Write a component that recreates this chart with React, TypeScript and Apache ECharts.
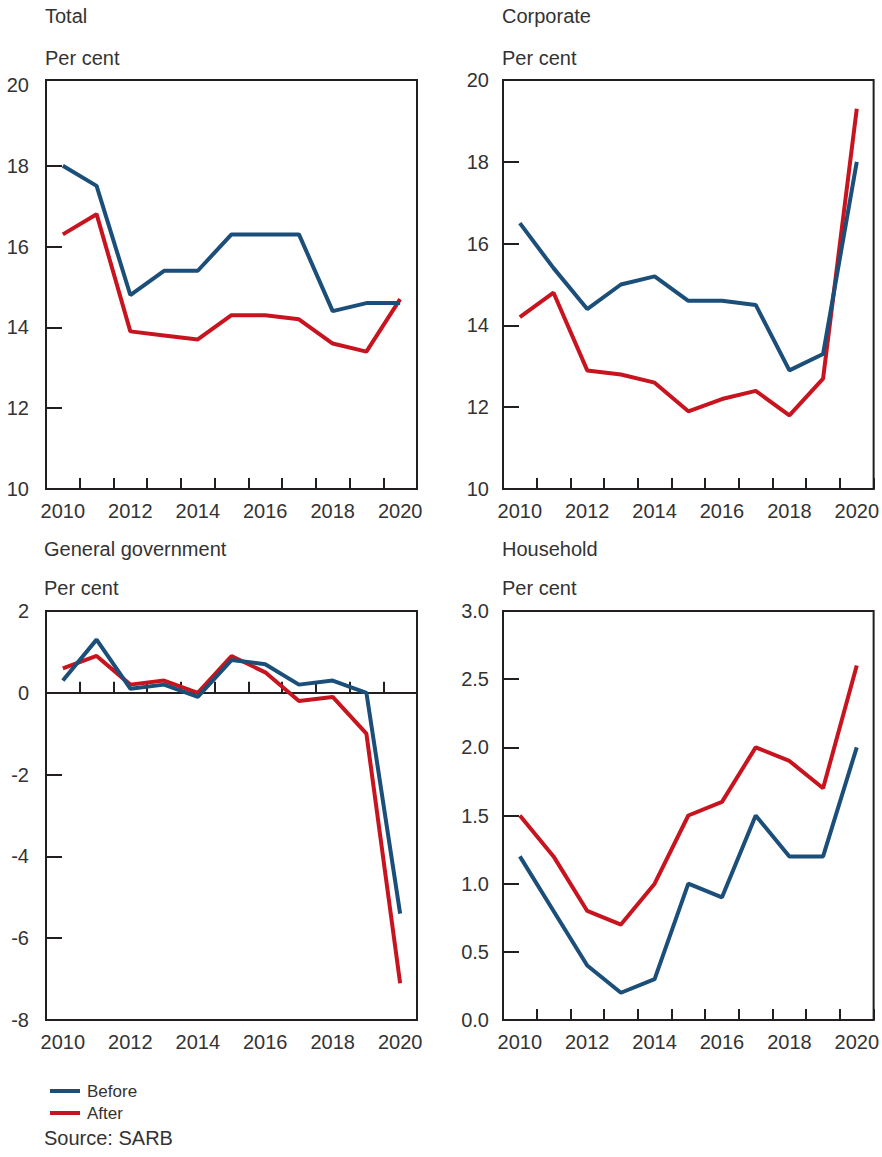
import React, { useEffect, useRef } from "react";
import * as echarts from "echarts";

const years = ["2010", "2011", "2012", "2013", "2014", "2015", "2016", "2017", "2018", "2019", "2020"];

const totalBefore = [18.0, 17.5, 14.8, 15.4, 15.4, 16.3, 16.3, 16.3, 14.4, 14.6, 14.6];
const totalAfter = [16.3, 16.8, 13.9, 13.8, 13.7, 14.3, 14.3, 14.2, 13.6, 13.4, 14.7];

const corpBefore = [16.5, 15.4, 14.4, 15.0, 15.2, 14.6, 14.6, 14.5, 12.9, 13.3, 18.0];
const corpAfter = [14.2, 14.8, 12.9, 12.8, 12.6, 11.9, 12.2, 12.4, 11.8, 12.7, 19.3];

const govBefore = [0.3, 1.3, 0.1, 0.2, -0.1, 0.8, 0.7, 0.2, 0.3, 0.0, -5.4];
const govAfter = [0.6, 0.9, 0.2, 0.3, 0.0, 0.9, 0.5, -0.2, -0.1, -1.0, -7.1];

const houseBefore = [1.2, 0.8, 0.4, 0.2, 0.3, 1.0, 0.9, 1.5, 1.2, 1.2, 2.0];
const houseAfter = [1.5, 1.2, 0.8, 0.7, 1.0, 1.5, 1.6, 2.0, 1.9, 1.7, 2.6];

const totalTicks = [10, 12, 14, 16, 18, 20];
const corpTicks = [10, 12, 14, 16, 18, 20];
const govTicks = [-8, -6, -4, -2, 0, 2];
const houseTicks = [0, 0.5, 1.0, 1.5, 2.0, 2.5, 3.0];

const panelTitles = ["Total", "Corporate", "General government", "Household"];
const unitLabel = "Per cent";
const seriesNames = ["Before", "After"];
const sourceText = "Source: SARB";

const BLUE = "#1b4f79";
const RED = "#c8141f";
const INK = "#231f20";
const TEXT = "#333333";
const FONT = "Liberation Sans, Arial, sans-serif";

export default function App() {
  const ref = useRef<HTMLDivElement>(null);
  useEffect(() => {
    if (!ref.current) return;
    const chart = echarts.init(ref.current, undefined, { renderer: "svg" });

    const panels = [
      { left: 46, top: 80, min: 10, max: 20.12, interval: 2, dec: 0, ticks: totalTicks, before: totalBefore, after: totalAfter, labelMargin: 17, zero: false },
      { left: 503, top: 80, min: 10, max: 20, interval: 2, dec: 0, ticks: corpTicks, before: corpBefore, after: corpAfter, labelMargin: 14, zero: false },
      { left: 46, top: 611, min: -8, max: 2, interval: 2, dec: 0, ticks: govTicks, before: govBefore, after: govAfter, labelMargin: 17, zero: true },
      { left: 503, top: 611, min: 0, max: 3, interval: 0.5, dec: 1, ticks: houseTicks, before: houseBefore, after: houseAfter, labelMargin: 14, zero: false },
    ];
    const W = 371;
    const H = 409;

    const grid = panels.map((p) => ({
      left: p.left,
      top: p.top,
      width: W,
      height: H,
      show: true,
      borderColor: INK,
      borderWidth: 2,
      backgroundColor: "transparent",
      containLabel: false,
    }));

    const xAxis = panels.map((p, i) => ({
      type: "category",
      gridIndex: i,
      data: years,
      boundaryGap: true,
      axisLine: { show: true, lineStyle: { color: INK, width: 2 } },
      axisTick: { show: true, inside: true, length: 11, interval: 0, lineStyle: { color: INK, width: 2 } },
      axisLabel: { interval: 1, margin: 12, fontSize: 20, color: TEXT, fontFamily: FONT },
      splitLine: { show: false },
    }));

    const yAxis = panels.map((p, i) => ({
      type: "value",
      gridIndex: i,
      min: p.min,
      max: p.max,
      interval: p.interval,
      axisLine: { show: true, lineStyle: { color: INK, width: 2 } },
      axisTick: {
        show: true,
        inside: true,
        length: 16,
        customValues: p.ticks.slice(1, -1),
        lineStyle: { color: INK, width: 2 },
      },
      axisLabel: {
        margin: p.labelMargin,
        fontSize: 20,
        color: TEXT,
        fontFamily: FONT,
        customValues: p.ticks,
        formatter: (v: number) => v.toFixed(p.dec),
      },
      splitLine: { show: false },
    }));

    const series: any[] = [];
    panels.forEach((p, i) => {
      const after: any = {
        type: "line",
        name: seriesNames[1],
        xAxisIndex: i,
        yAxisIndex: i,
        data: p.after,
        symbol: "none",
        lineStyle: { color: RED, width: 4 },
        itemStyle: { color: RED },
        z: 3,
      };
      const before: any = {
        type: "line",
        name: seriesNames[0],
        xAxisIndex: i,
        yAxisIndex: i,
        data: p.before,
        symbol: "none",
        lineStyle: { color: BLUE, width: 4 },
        itemStyle: { color: BLUE },
        z: 4,
      };
      if (p.zero) {
        after.markLine = {
          silent: true,
          symbol: ["none", "none"],
          label: { show: false },
          lineStyle: { color: INK, width: 1, type: "solid" },
          data: [{ yAxis: 0 }],
          z: 1,
        };
      }
      series.push(after, before);
    });

    const titlePos = [
      { x: 45, y: 16 },
      { x: 502, y: 16 },
      { x: 44, y: 549 },
      { x: 502, y: 549 },
    ];
    const unitPos = [
      { x: 45, y: 58 },
      { x: 502, y: 58 },
      { x: 44, y: 588 },
      { x: 502, y: 588 },
    ];
    const graphic: any[] = [];
    panelTitles.forEach((t, i) => {
      graphic.push({
        type: "text",
        x: titlePos[i].x,
        y: titlePos[i].y,
        style: { text: t, fontSize: 20, fill: TEXT, fontFamily: FONT, verticalAlign: "middle", align: "left" },
      });
      graphic.push({
        type: "text",
        x: unitPos[i].x,
        y: unitPos[i].y,
        style: { text: unitLabel, fontSize: 20, fill: TEXT, fontFamily: FONT, verticalAlign: "middle", align: "left" },
      });
    });
    graphic.push({
      type: "text",
      x: 44,
      y: 1138,
      style: { text: sourceText, fontSize: 20, fill: TEXT, fontFamily: FONT, verticalAlign: "middle", align: "left" },
    });

    chart.setOption({
      animation: false,
      backgroundColor: "#ffffff",
      grid,
      xAxis,
      yAxis,
      series,
      graphic,
      legend: {
        orient: "vertical",
        left: 45,
        top: 1077,
        data: [
          { name: seriesNames[0], icon: "rect", itemStyle: { color: BLUE } },
          { name: seriesNames[1], icon: "rect", itemStyle: { color: RED } },
        ],
        itemWidth: 30,
        itemHeight: 4,
        itemGap: 4,
        textStyle: { fontSize: 17, color: TEXT, fontFamily: FONT, padding: [0, 0, 0, 2], lineHeight: 18 },
        selectedMode: false,
      },
    });
    return () => chart.dispose();
  }, []);

  return (
    <div
      ref={ref}
      style={{ position: "absolute", left: 0, top: 0, width: 882, height: 1157, background: "#fff" }}
    />
  );
}
